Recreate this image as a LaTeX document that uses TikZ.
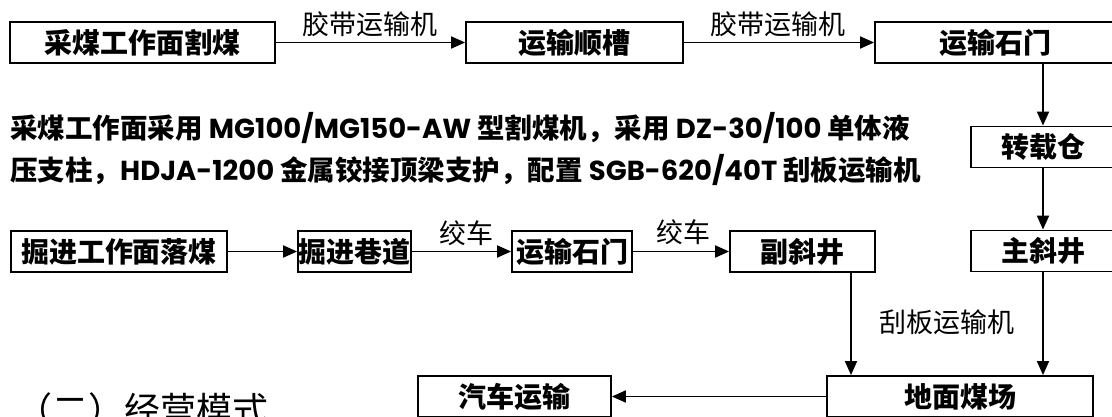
\documentclass[tikz,border=0pt]{standalone}
\usepackage{fontspec}
\newfontfamily\cjk{Noto Sans CJK SC}
\newfontfamily\lat{Poppins}
\usetikzlibrary{arrows.meta}
\begin{document}
\begin{tikzpicture}[x=1pt,y=-1pt,
  box/.style={draw, line width=1.8pt, minimum height=41pt, inner sep=0pt,
    font=\cjk\bfseries\fontsize{28}{32}\selectfont},
  lab/.style={font=\cjk\fontsize{27}{30}\selectfont, inner sep=0pt},
  para/.style={anchor=west, inner sep=0pt, font=\bfseries\fontsize{27.5}{32}\selectfont},
  arr/.style={line width=1.8pt, -{Triangle[length=14pt,width=12pt]}},
  ]
\useasboundingbox (0,0) rectangle (1112,417);
\clip (0,0) rectangle (1112,417);
% top row
\node[box, minimum width=265pt] (b1) at (142.5,42.5) {采煤工作面割煤};
\node[box, minimum width=217pt] (b2) at (574.5,42.5) {运输顺槽};
\node[box, minimum width=240pt] (b3) at (995,42.5) {运输石门};
\node[lab] (l1) at (370,24) {胶带运输机};
\node[lab] (l2) at (778,24) {胶带运输机};
\draw[arr] (b1) -- (b2);
\draw[arr] (b2) -- (b3);
% right column
\node[box, minimum width=144pt] (zzc) at (1043,147) {转载仓};
\node[box, minimum width=144pt] (zxj) at (1043,251) {主斜井};
\draw[arr] (zzc.north |- b3.south) -- (zzc.north);
\draw[arr] (zzc) -- (zxj);
% paragraph
\node[para] (p1) at (10,128) {\cjk 采煤工作面采用 \lat MG100/MG150-AW \cjk 型割煤机，采用 \lat DZ-30/100 \cjk 单体液};
\node[para] (p2) at (10,170) {\cjk 压支柱，\lat HDJA-1200 \cjk 金属铰接顶梁支护，配置 \lat SGB-620/40T \cjk 刮板运输机};
% second row
\node[box, minimum width=216pt] (j1) at (119,251.5) {掘进工作面落煤};
\node[box, minimum width=113pt] (j2) at (354.5,251.5) {掘进巷道};
\node[box, minimum width=120pt] (y2) at (572,251.5) {运输石门};
\node[box, minimum width=145pt] (f) at (802.5,251.5) {副斜井};
\node[lab] (l3) at (466,233) {绞车};
\node[lab] (l4) at (683,232) {绞车};
\draw[arr] (j1) -- (j2);
\draw[arr] (j2) -- (y2);
\draw[arr] (y2) -- (f);
% bottom row
\node[box, minimum width=266pt] (dm) at (960,396.5) {地面煤场};
\node[box, minimum width=193pt] (qc) at (514.5,396.5) {汽车运输};
\coordinate (fs) at ([xshift=48.5pt]f.south);
\draw[arr] (fs) -- (fs |- dm.north);
\node[lab] (l5) at (947,322) {刮板运输机};
\draw[arr] (zxj) -- (zxj |- dm.north);
\draw[arr] (dm) -- (qc);
% section heading (cut off at the page edge, as in the source)
\node[anchor=north west, inner sep=0pt, font=\cjk\fontsize{36}{42}\selectfont] (sec) at (16,392) {（二）经营模式};
\end{tikzpicture}
\end{document}
